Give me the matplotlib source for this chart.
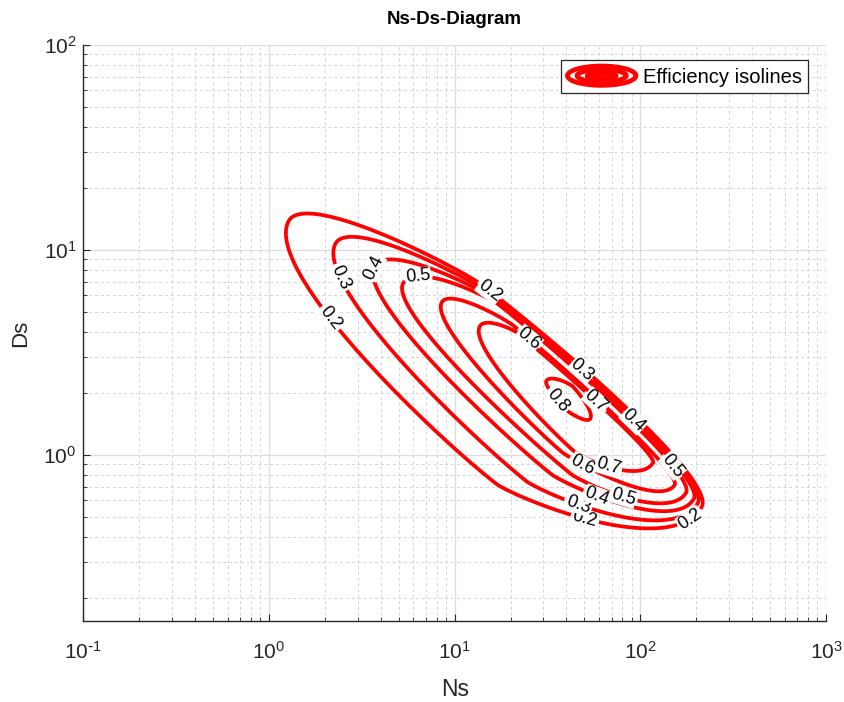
import numpy as np
import matplotlib
matplotlib.use('Agg')
import matplotlib.pyplot as plt
from matplotlib.legend_handler import HandlerBase
from matplotlib.patches import Ellipse
from matplotlib.lines import Line2D
from matplotlib.ticker import FuncFormatter

plt.rcParams['font.family'] = ['Liberation Sans', 'DejaVu Sans']
plt.rcParams['axes.unicode_minus'] = False

# efficiency isolines, each read off the picture as four points:
# left tip, right tip, highest point of the upper side, lowest point of the lower side
levels = [0.2, 0.3, 0.4, 0.5, 0.6, 0.7, 0.8]
tip_left_ns = [1.28, 2.29, 3.70, 5.29, 8.55, 13.7, 31.2]
tip_left_ds = [13.9, 10.8, 8.36, 6.90, 5.58, 4.26, 2.30]
tip_right_ns = [214, 204, 194, 176, 153, 117, 53.7]
tip_right_ds = [0.558, 0.583, 0.610, 0.653, 0.714, 0.914, 1.50]
top_ns = [13.3, 15.1, 16.0, 17.1, 20.5, 21.8, 43.0]
top_ds = [6.98, 6.24, 5.83, 5.45, 4.31, 3.94, 2.17]
bottom_ns = [17.1, 24.7, 33.6, 43.0, 38.0, 44.7, 40.5]
bottom_ds = [0.714, 0.738, 0.799, 0.799, 1.03, 1.03, 1.64]

# where the level labels sit on each isoline (Ns, Ds)
label_pos = {
    0.2: [(2.18, 4.71), (15.1, 6.17), (49.9, 0.477), (184, 0.493)],
    0.3: [(2.46, 7.38), (46.9, 2.51), (45.7, 0.558)],
    0.4: [(3.74, 8.17), (86.9, 1.40), (57.1, 0.597)],
    0.5: [(6.36, 7.38), (135, 0.826), (79.7, 0.590)],
    0.6: [(24.7, 3.64), (47.5, 0.855)],
    0.7: [(55.1, 1.75), (67.9, 0.914)],
    0.8: [(34.9, 1.81)],
}

SHAPE_P = 1.3
TEXT = '#262626'


def isoline_field(U, V, k):
    """Normalised distance to isoline k in log10 space (1.0 on the line)."""
    a = np.log10([tip_left_ns[k], tip_left_ds[k]])
    b = np.log10([tip_right_ns[k], tip_right_ds[k]])
    top = np.log10([top_ns[k], top_ds[k]])
    bot = np.log10([bottom_ns[k], bottom_ds[k]])
    length = np.hypot(*(b - a))
    e = (b - a) / length
    n = np.array([-e[1], e[0]])
    s = (U - a[0]) * e[0] + (V - a[1]) * e[1]
    t = (U - a[0]) * n[0] + (V - a[1]) * n[1]
    s_top, t_top = (top - a) @ e, (top - a) @ n
    s_bot, t_bot = (bot - a) @ e, (bot - a) @ n
    sc = np.where(t >= 0, s_top, s_bot)
    half = np.where(t >= 0, t_top, -t_bot)
    reach = np.where(s < sc, sc, length - sc)
    return np.abs((s - sc) / reach) ** SHAPE_P + (t / half) ** 2


def decade_label(val, pos):
    p = int(round(np.log10(val)))
    exp = r'\text{-}%d' % -p if p < 0 else '%d' % p
    return r'$\mathdefault{10^{%s}}$' % exp


class ContourHandler(HandlerBase):
    def create_artists(self, legend, orig_handle, xdescent, ydescent,
                       width, height, fontsize, trans):
        cx = width / 2 - xdescent
        cy = height / 2 - ydescent
        arts = []
        for fw, fh in ((1.0, 1.0), (0.72, 0.62), (0.42, 0.25)):
            arts.append(Ellipse((cx, cy), width * fw, height * fh, fill=False,
                                edgecolor='red', lw=3.4, transform=trans))
        return arts


fig = plt.figure(figsize=(8.45, 7.02), dpi=100)
ax = fig.add_axes([0.0986, 0.1154, 0.8789, 0.8205])
ax.set_xscale('log')
ax.set_yscale('log')
ax.set_xlim(0.1, 1000)
ax.set_ylim(0.155, 100)
ax.xaxis.set_major_formatter(FuncFormatter(decade_label))
ax.yaxis.set_major_formatter(FuncFormatter(decade_label))

u = np.linspace(-0.3, 2.7, 1500)
v = np.linspace(-0.6, 1.5, 1100)
U, V = np.meshgrid(u, v)

for k, lev in enumerate(levels):
    r = isoline_field(U, V, k)
    cs = ax.contour(10 ** U, 10 ** V, r, levels=[1.0], colors='red',
                    linewidths=2.7, zorder=3)
    texts = ax.clabel(cs, fmt={1.0: f'{lev:g}'}, manual=label_pos[lev],
                      inline=True, inline_spacing=2, fontsize=13,
                      colors='black')
    for t in texts:
        t.set_bbox(dict(boxstyle='square,pad=0.02', fc='white', ec='none'))
        t.set_zorder(5)

ax.grid(True, which='major', color='#dcdcdc', lw=0.9, zorder=0)
ax.grid(True, which='minor', color='#d4d4d4', lw=0.7, ls=(0, (3, 3)), zorder=0)
ax.set_axisbelow(True)

for side in ('top', 'right'):
    ax.spines[side].set_visible(False)
for side in ('left', 'bottom'):
    ax.spines[side].set_color(TEXT)
    ax.spines[side].set_linewidth(1.0)

ax.tick_params(which='both', direction='in', top=False, right=False,
               colors=TEXT, labelsize=15)
ax.tick_params(which='major', length=5)
ax.tick_params(which='minor', length=3)
ax.tick_params(axis='x', which='major', pad=14)
ax.tick_params(axis='y', which='major', pad=5)

ax.set_title('Ns-Ds-Diagram', fontsize=13.5, fontweight='bold', pad=15)
ax.set_xlabel('Ns', fontsize=16.5, color=TEXT, labelpad=11)
ax.set_ylabel('Ds', fontsize=16, color=TEXT, labelpad=9)

proxy = Line2D([], [], color='red')
leg = ax.legend([proxy], ['Efficiency isolines'], loc='upper right',
                bbox_to_anchor=(0.9758, 0.974), borderaxespad=0,
                handler_map={proxy: ContourHandler()}, fontsize=14.5,
                handlelength=3.4, handleheight=1.1, handletextpad=0.35,
                fancybox=False, framealpha=1, edgecolor=TEXT,
                borderpad=0.3)
leg.get_frame().set_linewidth(0.9)

fig.savefig('out.png', dpi=100)
